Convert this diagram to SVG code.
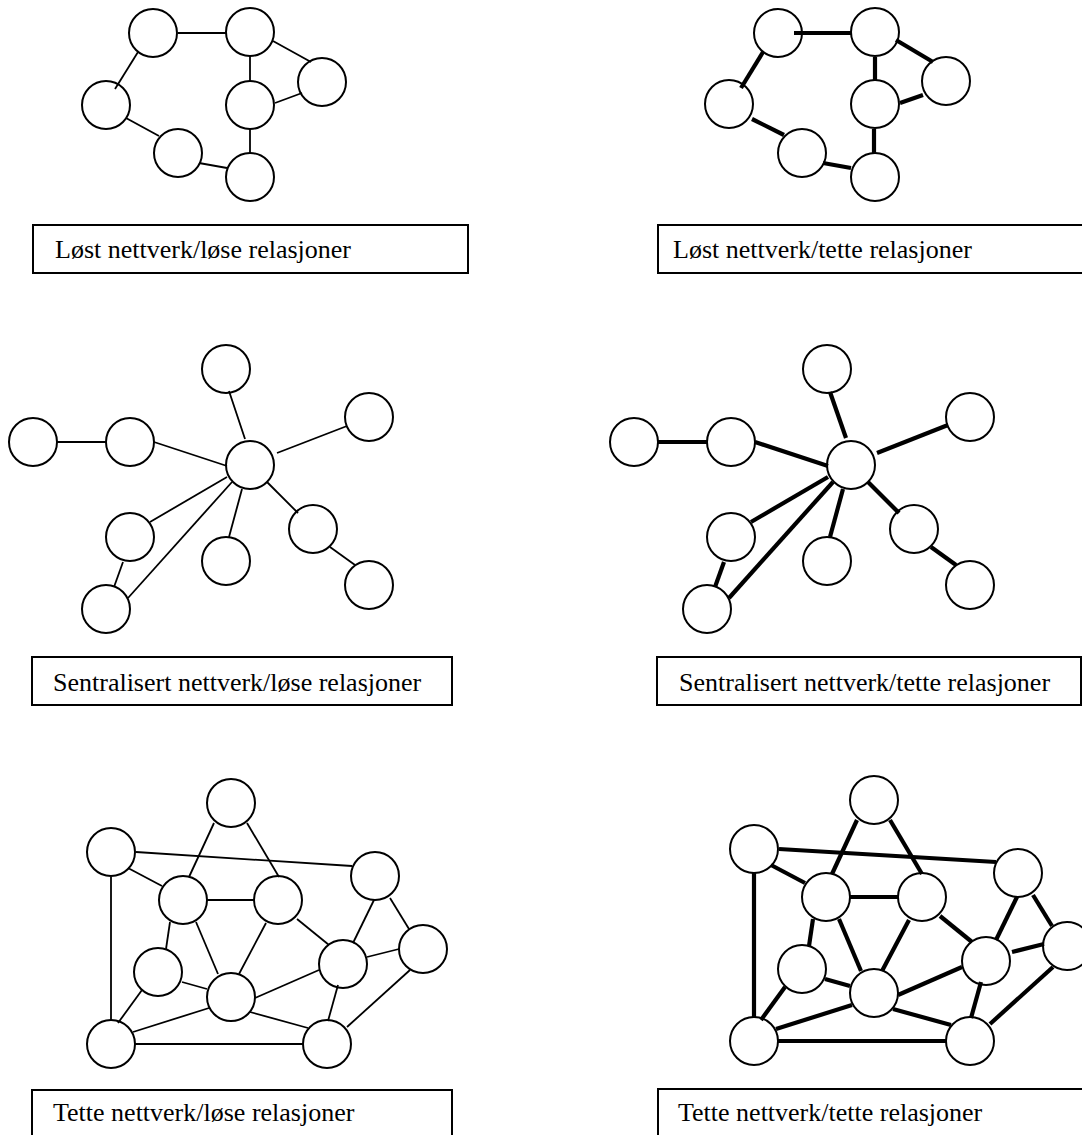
<svg xmlns="http://www.w3.org/2000/svg" width="1082" height="1135" viewBox="0 0 1082 1135">
  <style>
    .node { fill: #fff; stroke: #000; stroke-width: 2; }
    .thin { stroke: #000; stroke-width: 1.8; fill: none; }
    .thick { stroke: #000; stroke-width: 4.2; fill: none; }
    .box { fill: #fff; stroke: #000; stroke-width: 2; }
  </style>
  <defs>
    <circle id="n" r="24" class="node"/>
  </defs>
  <rect width="1082" height="1135" fill="#fff"/>

  <!-- Panel 1: loose network, loose ties -->
  <g id="p1-nodes">
    <g id="p1-a"><use href="#n" x="153" y="33"/></g>
    <g id="p1-b"><use href="#n" x="250" y="32"/></g>
    <g id="p1-c"><use href="#n" x="322" y="82"/></g>
    <g id="p1-d"><use href="#n" x="250" y="105"/></g>
    <g id="p1-e"><use href="#n" x="106" y="105"/></g>
    <g id="p1-f"><use href="#n" x="178" y="153"/></g>
    <g id="p1-g"><use href="#n" x="250" y="177"/></g>
  </g>
  <g id="p1-edges" class="thin">
    <line x1="178" y1="33" x2="226" y2="33"/>
    <line x1="138" y1="52" x2="115" y2="89"/>
    <line x1="250" y1="56" x2="250" y2="81"/>
    <line x1="273" y1="41" x2="311" y2="62"/>
    <line x1="302" y1="93" x2="275" y2="103"/>
    <line x1="250" y1="129" x2="250" y2="153"/>
    <line x1="126" y1="118" x2="159" y2="136"/>
    <line x1="199" y1="163" x2="227" y2="168"/>
  </g>

  <!-- Panel 2: loose network, strong ties -->
  <g id="p2-nodes">
    <g id="p2-a"><use href="#n" x="778" y="33"/></g>
    <g id="p2-b"><use href="#n" x="875" y="32"/></g>
    <g id="p2-c"><use href="#n" x="946" y="81"/></g>
    <g id="p2-d"><use href="#n" x="875" y="104"/></g>
    <g id="p2-e"><use href="#n" x="729" y="104"/></g>
    <g id="p2-f"><use href="#n" x="802" y="153"/></g>
    <g id="p2-g"><use href="#n" x="875" y="177"/></g>
  </g>
  <g id="p2-edges" class="thick">
    <line x1="794" y1="33" x2="851" y2="33"/>
    <line x1="763" y1="52" x2="741" y2="88"/>
    <line x1="875" y1="57" x2="875" y2="81"/>
    <line x1="896" y1="40" x2="933" y2="62"/>
    <line x1="923" y1="95" x2="900" y2="103"/>
    <line x1="874" y1="129" x2="874" y2="153"/>
    <line x1="752" y1="119" x2="784" y2="135"/>
    <line x1="823" y1="163" x2="851" y2="168"/>
  </g>

  <!-- Panel 3: centralised network, loose ties -->
  <g id="p3-nodes">
    <g id="p3-top"><use href="#n" x="226" y="369"/></g>
    <g id="p3-rt"><use href="#n" x="369" y="417"/></g>
    <g id="p3-l1"><use href="#n" x="33" y="442"/></g>
    <g id="p3-l2"><use href="#n" x="130" y="442"/></g>
    <g id="p3-c"><use href="#n" x="250" y="465"/></g>
    <g id="p3-ml"><use href="#n" x="130" y="537"/></g>
    <g id="p3-bc"><use href="#n" x="226" y="561"/></g>
    <g id="p3-rm"><use href="#n" x="313" y="529"/></g>
    <g id="p3-bl"><use href="#n" x="106" y="609"/></g>
    <g id="p3-br"><use href="#n" x="369" y="585"/></g>
  </g>
  <g id="p3-edges" class="thin">
    <line x1="57" y1="442" x2="106" y2="442"/>
    <line x1="154" y1="442" x2="227" y2="466"/>
    <line x1="229" y1="391" x2="245" y2="439"/>
    <line x1="277" y1="453" x2="347" y2="426"/>
    <line x1="227" y1="477" x2="150" y2="522"/>
    <line x1="232" y1="482" x2="128" y2="598"/>
    <line x1="242" y1="489" x2="229" y2="537"/>
    <line x1="267" y1="482" x2="298" y2="513"/>
    <line x1="123" y1="562" x2="114" y2="587"/>
    <line x1="330" y1="547" x2="355" y2="565"/>
  </g>

  <!-- Panel 4: centralised network, strong ties -->
  <g id="p4-nodes">
    <g id="p4-top"><use href="#n" x="827" y="369"/></g>
    <g id="p4-rt"><use href="#n" x="970" y="417"/></g>
    <g id="p4-l1"><use href="#n" x="634" y="442"/></g>
    <g id="p4-l2"><use href="#n" x="731" y="442"/></g>
    <g id="p4-c"><use href="#n" x="851" y="465"/></g>
    <g id="p4-ml"><use href="#n" x="731" y="537"/></g>
    <g id="p4-bc"><use href="#n" x="827" y="561"/></g>
    <g id="p4-rm"><use href="#n" x="914" y="529"/></g>
    <g id="p4-bl"><use href="#n" x="707" y="609"/></g>
    <g id="p4-br"><use href="#n" x="970" y="585"/></g>
  </g>
  <g id="p4-edges" class="thick">
    <line x1="658" y1="442" x2="707" y2="442"/>
    <line x1="755" y1="442" x2="828" y2="466"/>
    <line x1="830" y1="392" x2="846" y2="438"/>
    <line x1="877" y1="453" x2="948" y2="425"/>
    <line x1="828" y1="477" x2="751" y2="522"/>
    <line x1="833" y1="482" x2="729" y2="598"/>
    <line x1="843" y1="489" x2="830" y2="537"/>
    <line x1="868" y1="482" x2="899" y2="513"/>
    <line x1="724" y1="562" x2="715" y2="587"/>
    <line x1="931" y1="547" x2="956" y2="565"/>
  </g>

  <!-- Panel 5: dense network, loose ties -->
  <g id="p5-nodes">
    <g id="p5-top"><use href="#n" x="231" y="803"/></g>
    <g id="p5-ul"><use href="#n" x="111" y="852"/></g>
    <g id="p5-ru"><use href="#n" x="375" y="876"/></g>
    <g id="p5-a"><use href="#n" x="183" y="900"/></g>
    <g id="p5-b"><use href="#n" x="278" y="900"/></g>
    <g id="p5-far"><use href="#n" x="423" y="949"/></g>
    <g id="p5-c"><use href="#n" x="343" y="964"/></g>
    <g id="p5-d"><use href="#n" x="158" y="972"/></g>
    <g id="p5-e"><use href="#n" x="231" y="997"/></g>
    <g id="p5-f"><use href="#n" x="111" y="1044"/></g>
    <g id="p5-g"><use href="#n" x="327" y="1044"/></g>
  </g>
  <g id="p5-edges" class="thin">
    <line x1="214" y1="823" x2="189" y2="877"/>
    <line x1="247" y1="823" x2="279" y2="877"/>
    <line x1="136" y1="852" x2="352" y2="866"/>
    <line x1="128" y1="868" x2="162" y2="886"/>
    <line x1="111" y1="877" x2="111" y2="1020"/>
    <line x1="207" y1="900" x2="254" y2="900"/>
    <line x1="170" y1="922" x2="166" y2="949"/>
    <line x1="196" y1="922" x2="218" y2="974"/>
    <line x1="266" y1="923" x2="239" y2="974"/>
    <line x1="297" y1="919" x2="329" y2="945"/>
    <line x1="374" y1="900" x2="353" y2="943"/>
    <line x1="390" y1="898" x2="409" y2="929"/>
    <line x1="367" y1="957" x2="399" y2="949"/>
    <line x1="182" y1="982" x2="207" y2="989"/>
    <line x1="142" y1="990" x2="118" y2="1023"/>
    <line x1="255" y1="998" x2="319" y2="970"/>
    <line x1="209" y1="1008" x2="133" y2="1032"/>
    <line x1="250" y1="1012" x2="308" y2="1028"/>
    <line x1="338" y1="985" x2="328" y2="1021"/>
    <line x1="135" y1="1044" x2="303" y2="1044"/>
    <line x1="410" y1="970" x2="347" y2="1027"/>
  </g>

  <!-- Panel 6: dense network, strong ties -->
  <g id="p6-nodes">
    <g id="p6-top"><use href="#n" x="874" y="800"/></g>
    <g id="p6-ul"><use href="#n" x="754" y="849"/></g>
    <g id="p6-ru"><use href="#n" x="1018" y="873"/></g>
    <g id="p6-a"><use href="#n" x="826" y="897"/></g>
    <g id="p6-b"><use href="#n" x="922" y="897"/></g>
    <g id="p6-far"><use href="#n" x="1067" y="946"/></g>
    <g id="p6-c"><use href="#n" x="986" y="961"/></g>
    <g id="p6-d"><use href="#n" x="802" y="969"/></g>
    <g id="p6-e"><use href="#n" x="874" y="993"/></g>
    <g id="p6-f"><use href="#n" x="754" y="1041"/></g>
    <g id="p6-g"><use href="#n" x="970" y="1041"/></g>
  </g>
  <g id="p6-edges" class="thick">
    <line x1="857" y1="820" x2="832" y2="874"/>
    <line x1="890" y1="820" x2="922" y2="874"/>
    <line x1="779" y1="849" x2="996" y2="862"/>
    <line x1="771" y1="865" x2="805" y2="883"/>
    <line x1="754" y1="873" x2="754" y2="1017"/>
    <line x1="850" y1="897" x2="898" y2="897"/>
    <line x1="813" y1="919" x2="809" y2="946"/>
    <line x1="839" y1="919" x2="861" y2="971"/>
    <line x1="909" y1="920" x2="882" y2="971"/>
    <line x1="940" y1="916" x2="972" y2="942"/>
    <line x1="1017" y1="897" x2="996" y2="940"/>
    <line x1="1033" y1="895" x2="1052" y2="926"/>
    <line x1="1012" y1="952" x2="1044" y2="944"/>
    <line x1="825" y1="979" x2="850" y2="986"/>
    <line x1="785" y1="987" x2="761" y2="1020"/>
    <line x1="898" y1="995" x2="962" y2="967"/>
    <line x1="852" y1="1005" x2="776" y2="1029"/>
    <line x1="893" y1="1009" x2="951" y2="1025"/>
    <line x1="981" y1="982" x2="971" y2="1018"/>
    <line x1="778" y1="1041" x2="946" y2="1041"/>
    <line x1="1053" y1="967" x2="990" y2="1024"/>
  </g>

  <!-- Caption boxes -->
  <g id="labels" font-family="Liberation Serif, Times New Roman, DejaVu Serif, serif" font-size="26" fill="#000">
    <g id="p1-label">
      <rect class="box" x="33" y="225" width="435" height="48"/>
      <text x="55" y="258">Løst nettverk/løse relasjoner</text>
    </g>
    <g id="p2-label">
      <rect class="box" x="658" y="225" width="440" height="48"/>
      <text x="673" y="258">Løst nettverk/tette relasjoner</text>
    </g>
    <g id="p3-label">
      <rect class="box" x="32" y="657" width="420" height="48"/>
      <text x="53" y="691">Sentralisert nettverk/løse relasjoner</text>
    </g>
    <g id="p4-label">
      <rect class="box" x="657" y="657" width="424" height="48"/>
      <text x="679" y="691">Sentralisert nettverk/tette relasjoner</text>
    </g>
    <g id="p5-label">
      <rect class="box" x="32" y="1090" width="420" height="60"/>
      <text x="53" y="1121">Tette nettverk/løse relasjoner</text>
    </g>
    <g id="p6-label">
      <rect class="box" x="658" y="1089" width="440" height="60"/>
      <text x="678" y="1121">Tette nettverk/tette relasjoner</text>
    </g>
  </g>
</svg>
